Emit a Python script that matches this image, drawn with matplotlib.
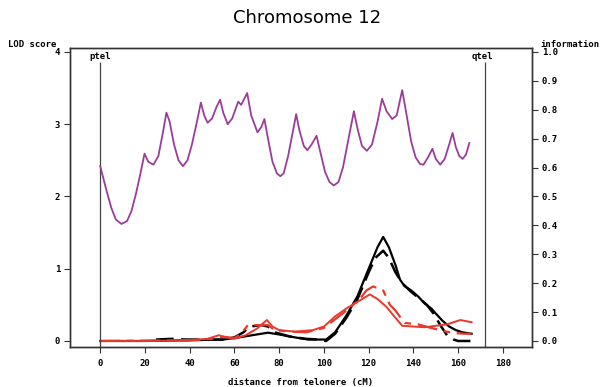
import matplotlib
matplotlib.use("Agg")
import matplotlib.pyplot as plt

# information content (right axis), cM / fraction
info_cm = [0, 1.5, 3, 5, 7, 9.5, 12, 14, 16, 18, 19.8, 21.5, 23.8, 26, 28, 29.6, 31, 33, 35, 37,
           39, 41, 43, 45, 46.5, 48, 50, 52, 53.6, 55, 57, 59, 61.7, 63, 65.7, 67.5, 70.3, 72,
           73.4, 75, 77, 79, 80.5, 82, 84, 86, 87.6, 89, 91, 92.6, 94.5, 96.7, 98.5, 100.5,
           102.5, 104.4, 106.5, 108.5, 111, 113.4, 115, 117, 119.2, 121.5, 124, 126, 128, 130.5,
           132.5, 135, 137, 139, 141, 143, 144.5, 146.5, 148.5, 150, 152, 154, 156, 157.5, 159,
           160.5, 162, 163.5, 165]
info_val = [0.605, 0.56, 0.515, 0.46, 0.42, 0.405, 0.415, 0.45, 0.51, 0.58, 0.648, 0.62, 0.61,
            0.64, 0.72, 0.79, 0.76, 0.68, 0.625, 0.605, 0.625, 0.68, 0.75, 0.825, 0.78, 0.755,
            0.77, 0.81, 0.835, 0.79, 0.75, 0.77, 0.828, 0.817, 0.858, 0.78, 0.722, 0.74, 0.768,
            0.70, 0.62, 0.58, 0.57, 0.58, 0.64, 0.72, 0.785, 0.73, 0.675, 0.66, 0.68, 0.71, 0.65,
            0.585, 0.55, 0.538, 0.55, 0.60, 0.70, 0.795, 0.735, 0.675, 0.658, 0.68, 0.76, 0.838,
            0.795, 0.768, 0.78, 0.868, 0.78, 0.69, 0.635, 0.612, 0.61, 0.635, 0.665, 0.63, 0.61,
            0.63, 0.68, 0.72, 0.67, 0.64, 0.63, 0.645, 0.685]

# LOD curves
blk_cm = [0, 20, 40, 55, 62, 68, 75, 80, 87, 93, 101, 105, 110, 115, 120, 124, 126.5, 129, 132,
          134, 136, 139, 142, 145, 148, 150, 153, 156, 159, 162, 166]
blk_lod = [0.0, 0.0, 0.01, 0.02, 0.05, 0.08, 0.115, 0.09, 0.05, 0.02, 0.02, 0.12, 0.35, 0.62, 1.0,
           1.3, 1.44, 1.3, 1.05, 0.85, 0.76, 0.7, 0.62, 0.52, 0.45, 0.38, 0.28, 0.2, 0.15, 0.12, 0.1]

blkd_cm = [25, 32, 38, 45, 55, 60, 64, 67, 72, 75, 78, 85, 92, 98, 101, 105, 110, 115, 120, 123,
           126.5, 129, 132, 135, 139, 143, 146, 149, 152, 155, 158, 160, 166]
blkd_lod = [0.02, 0.03, 0.02, 0.02, 0.02, 0.05, 0.12, 0.2, 0.22, 0.2, 0.12, 0.06, 0.03, 0.02, 0.0,
            0.1, 0.32, 0.58, 0.95, 1.15, 1.25, 1.15, 0.95, 0.8, 0.68, 0.58, 0.5, 0.38, 0.22, 0.08,
            0.02, 0.0, 0.0]

red_cm = [0, 20, 40, 48, 53, 56, 60, 65, 70, 74.5, 77, 80, 87, 95, 100, 105, 110, 116, 120.5, 124,
          128, 132, 135, 140, 145, 150, 155, 161, 166]
red_lod = [0.0, 0.0, 0.01, 0.03, 0.08, 0.05, 0.03, 0.08, 0.17, 0.29, 0.2, 0.15, 0.13, 0.15, 0.2,
           0.34, 0.45, 0.56, 0.645, 0.58, 0.47, 0.32, 0.21, 0.2, 0.19, 0.21, 0.23, 0.29, 0.26]

redd_cm = [0, 40, 50, 55, 60, 63, 66, 72, 75, 78, 85, 92, 100, 105, 110, 116, 119, 122, 126.5,
           129.5, 132, 136, 142, 148, 153, 158, 163, 166]
redd_lod = [0.0, 0.01, 0.03, 0.06, 0.04, 0.1, 0.22, 0.22, 0.22, 0.15, 0.13, 0.12, 0.18, 0.3, 0.42,
            0.58, 0.7, 0.755, 0.7, 0.5, 0.42, 0.25, 0.23, 0.18, 0.14, 0.11, 0.1, 0.1]

xticks = [0, 20, 40, 60, 80, 100, 120, 140, 160, 180]
lod_ticks = [0, 1, 2, 3, 4]
info_ticks = [0.0, 0.1, 0.2, 0.3, 0.4, 0.5, 0.6, 0.7, 0.8, 0.9, 1.0]
ptel, qtel = 0, 172

mono = {'family': 'DejaVu Sans Mono', 'weight': 'bold', 'size': 6.5}
edge = '#333333'

fig = plt.figure(figsize=(6.05, 3.87), dpi=100)
ax = fig.add_axes([0.1157, 0.1034, 0.7636, 0.7726])
ax2 = ax.twinx()

ylo, yhi = -0.083, 4.055
ax.set_xlim(-13.5, 193)
ax.set_ylim(ylo, yhi)
ax2.set_ylim(ylo / 4, yhi / 4)

ax.plot(blk_cm, blk_lod, color='black', lw=1.6)
ax.plot(blkd_cm, blkd_lod, color='black', lw=1.8, linestyle=(0, (7, 3)))
ax.plot(red_cm, red_lod, color='#e8392c', lw=1.4)
ax.plot(redd_cm, redd_lod, color='#e8392c', lw=1.6, linestyle=(0, (9, 3, 3, 3)))
ax2.plot(info_cm, info_val, color='#9b3c9b', lw=1.3)

ax.vlines([ptel, qtel], ylo, 3.86, colors='#444444', lw=0.9)
ax.text(ptel, 3.94, 'ptel', ha='center', va='center', **mono)
ax.text(qtel - 1, 3.94, 'qtel', ha='center', va='center', **mono)

ax.set_xticks(xticks)
ax.set_yticks(lod_ticks)
ax2.set_yticks(info_ticks)
ax.set_xticklabels([str(t) for t in xticks], fontdict=mono)
ax.set_yticklabels([str(t) for t in lod_ticks], fontdict=mono)
ax2.set_yticklabels(['%.1f' % t for t in info_ticks], fontdict=mono)
ax.tick_params(axis='both', direction='out', length=4, width=0.8, colors=edge, labelcolor='black', pad=3)
ax2.tick_params(axis='y', direction='out', length=4, width=0.8, colors=edge, labelcolor='black', pad=3)
ax.tick_params(axis='x', pad=5)

for a in (ax, ax2):
    for s in a.spines.values():
        s.set_color(edge)
        s.set_linewidth(1.0)

ax.set_xlabel('distance from telonere (cM)', fontdict=mono, labelpad=7)
fig.text(0.013, 0.886, 'LOD score', ha='left', va='center', **mono)
fig.text(0.893, 0.886, 'information', ha='left', va='center', **mono)
fig.text(0.507, 0.953, 'Chromosome 12', ha='center', va='center', fontsize=13, family='DejaVu Sans')

fig.savefig('out.png', dpi=100)
